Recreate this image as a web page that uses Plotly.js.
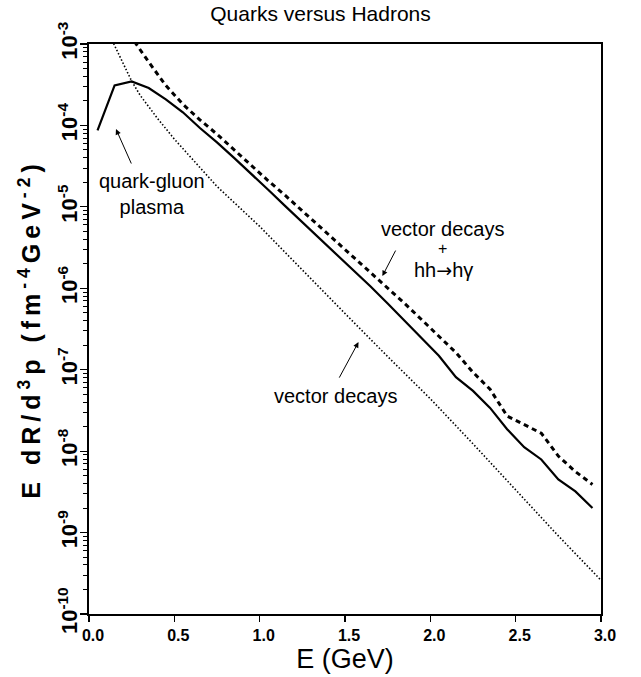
<!DOCTYPE html>
<html>
<head>
<meta charset="utf-8">
<script src="https://cdn.plot.ly/plotly-3.0.1.min.js"></script>
<style>
html,body{margin:0;padding:0;background:#fff;}
#chart{width:641px;height:677px;}
#chart .ytitle{letter-spacing:5px;}
</style>
</head>
<body>
<div id="chart"></div>
<script>
// Quark-gluon plasma (solid)
const qgpE = [0.05,0.15,0.25,0.35,0.45,0.55,0.65,0.75,0.85,0.95,1.05,1.15,1.25,1.35,1.45,1.55,1.65,1.75,1.85,1.95,2.05,2.15,2.25,2.35,2.45,2.55,2.65,2.75,2.85,2.95];
const qgpRate = [8.7e-5,3.1e-4,3.47e-4,2.88e-4,2.09e-4,1.45e-4,9.3e-5,6.2e-5,4.0e-5,2.57e-5,1.62e-5,1.02e-5,6.5e-6,4.1e-6,2.63e-6,1.66e-6,1.05e-6,6.5e-7,4.0e-7,2.45e-7,1.48e-7,8.1e-8,5.5e-8,3.4e-8,1.86e-8,1.12e-8,7.9e-9,4.5e-9,3.2e-9,2.0e-9];
// Vector decays + hh -> h gamma (dashed)
const hadE = [0.15,0.25,0.35,0.45,0.55,0.65,0.75,0.85,0.95,1.05,1.15,1.25,1.35,1.45,1.55,1.65,1.75,1.85,1.95,2.05,2.15,2.25,2.35,2.45,2.55,2.65,2.75,2.85,2.95];
const hadRate = [2.5e-3,1.2e-3,6.0e-4,3.1e-4,1.82e-4,1.17e-4,7.8e-5,5.0e-5,3.24e-5,2.09e-5,1.38e-5,8.9e-6,5.75e-6,3.7e-6,2.45e-6,1.58e-6,1.02e-6,6.5e-7,4.1e-7,2.57e-7,1.62e-7,9.3e-8,5.75e-8,2.7e-8,2.1e-8,1.66e-8,8.7e-9,5.6e-9,3.9e-9];
// Vector decays only (dotted)
const vecE = [0.10,0.15,0.20,0.25,0.30,0.40,0.50,0.75,1.00,1.25,1.50,1.75,2.00,2.25,2.50,2.75,3.00];
const vecRate = [1.58e-3,9.5e-4,5.6e-4,3.5e-4,2.34e-4,1.23e-4,6.8e-5,1.78e-5,5.75e-6,1.66e-6,4.9e-7,1.45e-7,4.4e-8,1.23e-8,3.3e-9,9.1e-10,2.6e-10];

const yTickVals = [1e-10,1e-9,1e-8,1e-7,1e-6,1e-5,1e-4,1e-3];
const yTickText = ['10<sup>-10</sup>','10<sup>-9</sup>','10<sup>-8</sup>','10<sup>-7</sup>','10<sup>-6</sup>','10<sup>-5</sup>','10<sup>-4</sup>','10<sup>-3</sup>'];
const xTickVals = [0,0.5,1.0,1.5,2.0,2.5,3.0];
const xTickText = ['0.0','0.5','1.0','1.5','2.0','2.5','3.0'];

const minorVals = [];
for (let p = -10; p < -3; p++) for (let k = 2; k <= 9; k++) minorVals.push(k * Math.pow(10, p));

const traces = [
  {x: qgpE, y: qgpRate, mode: 'lines', line: {color: '#000', width: 2.2, dash: 'solid'}, name: 'quark-gluon plasma'},
  {x: hadE, y: hadRate, mode: 'lines', line: {color: '#000', width: 3, dash: '5px,4px'}, name: 'vector decays + hh->hγ'},
  {x: vecE, y: vecRate, mode: 'lines', line: {color: '#000', width: 1.6, dash: '1.5px,2px'}, name: 'vector decays'}
];

const FAM = 'Liberation Sans, Arial, sans-serif';
const afont = {family: FAM, size: 20, color: '#000'};
const arrowStyle = {xref: 'x', yref: 'y', axref: 'pixel', ayref: 'pixel', text: '', showarrow: true, arrowhead: 2, arrowsize: 1.1, arrowwidth: 1, arrowcolor: '#000'};
const layout = {
  width: 641, height: 677,
  margin: {l: 89, r: 40, t: 44, b: 63},
  paper_bgcolor: '#fff', plot_bgcolor: '#fff',
  showlegend: false,
  title: {text: 'Quarks versus Hadrons', x: 0.5, xanchor: 'center', y: 0.99, yanchor: 'top',
          font: {family: FAM, size: 21, color: '#000'}},
  xaxis: {
    range: [0, 3], tickvals: xTickVals, ticktext: xTickText,
    ticks: 'outside', ticklen: 6, tickwidth: 1.2, tickcolor: '#000',
    ticklabelshift: 4,
    showline: true, linewidth: 2, linecolor: '#000', mirror: true,
    showgrid: false, zeroline: false,
    tickfont: {family: FAM, size: 16, color: '#000', weight: 'bold'},
    title: {text: 'E (GeV)', standoff: 6, font: {family: FAM, size: 27, color: '#000'}}
  },
  yaxis: {
    type: 'log', range: [-10, -3], tickvals: yTickVals, ticktext: yTickText, tickangle: -90,
    ticks: 'outside', ticklen: 7, tickwidth: 1.2, tickcolor: '#000',
    ticklabelstandoff: -6,
    minor: {tickvals: minorVals, ticks: 'outside', ticklen: 4, tickwidth: 1, tickcolor: '#000', showgrid: false},
    showline: true, linewidth: 2, linecolor: '#000', mirror: true,
    showgrid: false, zeroline: false,
    tickfont: {family: FAM, size: 22, color: '#000', weight: 'bold'},
    title: {text: 'E dR/d<sup>3</sup>p (fm<sup>-4</sup>GeV<sup>-2</sup>)', standoff: 6,
            font: {family: FAM, size: 25, color: '#000', weight: 'bold'}}
  },
  annotations: [
    Object.assign({x: 0.158, y: -4.044, ax: 16, ay: 36}, arrowStyle),
    {x: 0.368, y: -4.843, xref: 'x', yref: 'y', text: 'quark-gluon<br>plasma', showarrow: false, font: afont},
    {x: 2.07, y: -5.273, xref: 'x', yref: 'y', text: 'vector decays', showarrow: false, font: afont},
    {x: 2.07, y: -5.515, xref: 'x', yref: 'y', text: '+', showarrow: false, font: {family: FAM, size: 16, color: '#000'}},
    {x: 2.08, y: -5.78, xref: 'x', yref: 'y', text: 'hh<span style="font-family:DejaVu Sans;font-size:19px">→</span>hγ', showarrow: false, font: afont},
    Object.assign({x: 1.719, y: -5.850, ax: 14, ay: -27}, arrowStyle),
    {x: 1.444, y: -7.324, xref: 'x', yref: 'y', text: 'vector decays', showarrow: false, font: afont},
    Object.assign({x: 1.579, y: -6.661, ax: -20, ay: 37}, arrowStyle)
  ]
};
Plotly.newPlot('chart', traces, layout, {staticPlot: true, displayModeBar: false});
</script>
</body>
</html>
